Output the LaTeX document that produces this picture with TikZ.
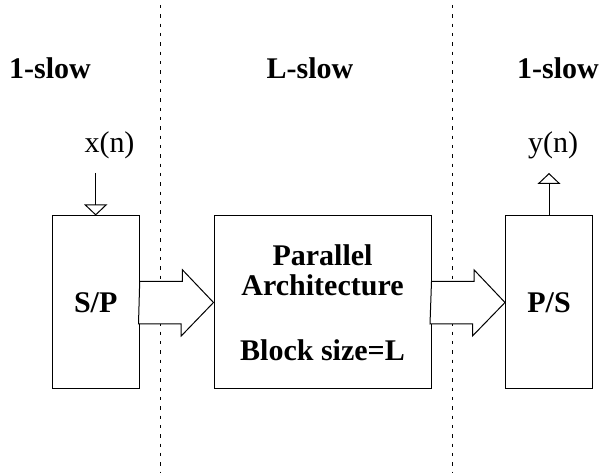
\documentclass[tikz,border=0pt]{standalone}
\usepackage{fontspec}
\setmainfont{Liberation Serif}
\usetikzlibrary{arrows.meta}

\tikzset{every picture/.style={line width=0.75pt}}
\tikzset{
  blockbox/.style={draw, inner sep=0pt, minimum width=65.25pt, minimum height=129.75pt, align=center, font=\fontsize{22.5}{22.5}\selectfont\bfseries},
  sepline/.style={line width=0.75pt, dash pattern={on 2.5pt off 4.5pt}},
  sigarrow/.style={-{Triangle[open,length=8.25pt,width=17.25pt]}},
  fatarrow/.style={draw, fill=white, line join=miter},
  ratetext/.style={font=\fontsize{22.5}{22.5}\selectfont\bfseries},
  sigtext/.style={font=\fontsize{22.5}{22.5}\selectfont}
}

\begin{document}
\begin{tikzpicture}[x=0.75pt,y=0.75pt,yscale=-1,xscale=1]
\useasboundingbox (0,0) rectangle (600,473);

%Straight Lines [id:sep1] 
\draw [sepline]  (160.7,5) -- (160.7,473) ;
%Straight Lines [id:sep2] 
\draw [sepline]  (452.3,5) -- (452.3,473) ;

% Text Node
\node (rateone) [ratetext] at (50,68) {1-slow};
% Text Node
\node (rateL) [ratetext] at (310,68) {L-slow};
% Text Node
\node (ratetwo) [ratetext] at (558,68) {1-slow};

%Shape: Rectangle [id:sp] 
\node (sp) [blockbox] at (95.7,302.5) {S/P};
%Shape: Rectangle [id:arch] 
\node (arch) [blockbox, minimum width=162.75pt] at (322.5,302.5) {Parallel\\Architecture\\[26pt]Block size=L};
%Shape: Rectangle [id:ps] 
\node (ps) [blockbox] at (549,302.5) {P/S};

% Text Node
\node (xn) [sigtext] at (109.5,145) {x(n)};
% Text Node
\node (yn) [sigtext] at (553,145) {y(n)};
\coordinate (xin) at (95.7,173);
\coordinate (yout) at (549,173);

%Straight Lines [id:xarrow] 
\draw [sigarrow]  (xin) -- (sp.north) ;
%Straight Lines [id:yarrow] 
\draw [sigarrow]  (ps.north) -- (yout) ;

%Shape: Right Arrow [id:sparrow] 
\draw [fatarrow]  (sp.east) ++(0,-21) -- ++(42.7,0) -- ++(0,-11.7) -- (arch.west) -- ++(-32.3,33.5) -- ++(0,-12) -- ++(-42.7,0) -- cycle ;
%Shape: Right Arrow [id:psarrow] 
\draw [fatarrow]  (arch.east) ++(0,-21) -- ++(42.5,0) -- ++(0,-11.7) -- (ps.west) -- ++(-32.5,33.5) -- ++(0,-12) -- ++(-42.5,0) -- cycle ;

\end{tikzpicture}
\end{document}
